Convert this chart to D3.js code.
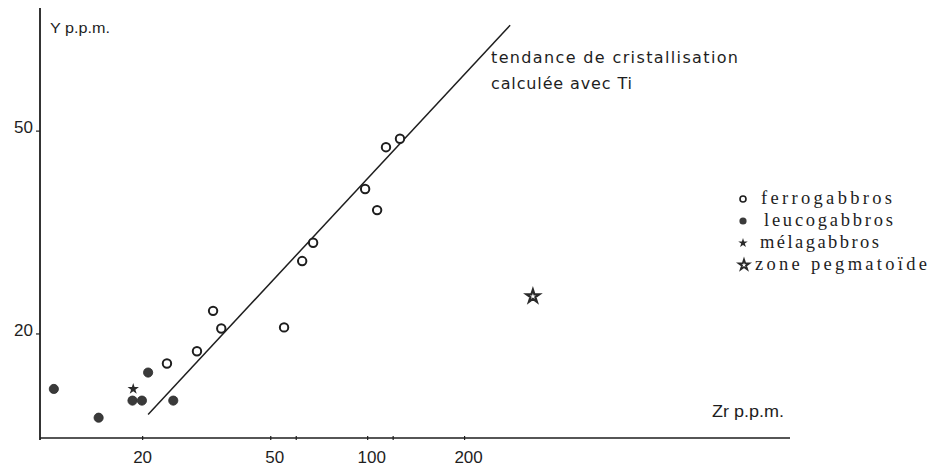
<!DOCTYPE html>
<html>
<head>
<meta charset="utf-8">
<script src="https://cdn.jsdelivr.net/npm/d3@7"></script>
<style>
  html, body { margin: 0; padding: 0; background: #fff; }
  svg { display: block; }
</style>
</head>
<body>
<svg id="chart" width="931" height="466"></svg>
<script>
// Zr (ppm) and Y (ppm) for each rock group
const ferroZr = [23.8, 29.5, 33.1, 35.1, 55.0, 62.6, 67.7, 98.2, 107, 114, 126];
const ferroY  = [17.5, 18.5, 22.2, 20.5, 20.6, 27.8, 30.2, 38.5, 35.0, 46.5, 48.3];

const leucoZr = [10.6, 14.6, 18.6, 19.9, 20.8, 24.9];
const leucoY  = [15.6, 13.7, 14.8, 14.8, 16.8, 14.8];

const melaZr = [18.7];
const melaY  = [15.6];

const pegmaZr = [326];
const pegmaY  = [23.7];

// crystallisation trend computed from Ti
const trendZr = [20.8, 277];
const trendY  = [13.9, 80.7];

const xTickValues = [20, 50, 100, 200];
const xMinorTicks = [60, 120];
const yTickValues = [20, 50];

const legendLabels = ["ferrogabbros", "leucogabbros", "mélagabbros", "zone pegmatoïde"];
const trendLabel = ["tendance de cristallisation", "calculée avec Ti"];

const ink = "#1e1e1e";
const svg = d3.select("#chart");

const x = d3.scaleLog().domain([9.6, 2050]).range([40, 790]);
const y = d3.scaleLog().domain([12.5, 87.2]).range([438, 8]);

const zip = (a, b) => a.map((v, i) => [v, b[i]]);

// axes lines
svg.append("line")
  .attr("x1", x.range()[0]).attr("x2", x.range()[1])
  .attr("y1", y.range()[0]).attr("y2", y.range()[0])
  .attr("stroke", ink).attr("stroke-width", 1.6);
svg.append("line")
  .attr("x1", x.range()[0]).attr("x2", x.range()[0])
  .attr("y1", y.range()[0] + 2).attr("y2", y.range()[1])
  .attr("stroke", ink).attr("stroke-width", 1.8);

// x ticks
svg.append("g").selectAll("line")
  .data(xTickValues.concat(xMinorTicks))
  .join("line")
  .attr("x1", d => x(d)).attr("x2", d => x(d))
  .attr("y1", y.range()[0] - 2).attr("y2", y.range()[0] + 2)
  .attr("stroke", ink).attr("stroke-width", 1.2);

svg.append("g").selectAll("text")
  .data(xTickValues)
  .join("text")
  .attr("x", d => x(d) + (d === 20 ? 0 : 4))
  .attr("y", 463)
  .attr("text-anchor", "middle")
  .attr("font-family", "Liberation Sans, Arial, sans-serif")
  .attr("font-size", 17)
  .attr("fill", ink)
  .text(d => d);

// y ticks
svg.append("g").selectAll("line")
  .data(yTickValues)
  .join("line")
  .attr("x1", x.range()[0] - 4).attr("x2", x.range()[0])
  .attr("y1", d => y(d)).attr("y2", d => y(d))
  .attr("stroke", ink).attr("stroke-width", 1.2);

svg.append("g").selectAll("text")
  .data(yTickValues)
  .join("text")
  .attr("x", 33)
  .attr("y", d => y(d) + 2)
  .attr("text-anchor", "end")
  .attr("font-family", "Liberation Sans, Arial, sans-serif")
  .attr("font-size", 17)
  .attr("fill", ink)
  .text(d => d);

// axis titles
svg.append("text")
  .attr("x", 50).attr("y", 33)
  .attr("font-family", "Liberation Sans, Arial, sans-serif")
  .attr("font-size", 15)
  .attr("fill", ink)
  .attr("textLength", 60).attr("lengthAdjust", "spacingAndGlyphs")
  .text("Y p.p.m.");
svg.append("text")
  .attr("x", 712).attr("y", 417)
  .attr("font-family", "Liberation Sans, Arial, sans-serif")
  .attr("font-size", 16)
  .attr("fill", ink)
  .attr("textLength", 72).attr("lengthAdjust", "spacingAndGlyphs")
  .text("Zr p.p.m.");

// trend line
svg.append("path")
  .datum(zip(trendZr, trendY))
  .attr("d", d3.line().x(d => x(d[0])).y(d => y(d[1])))
  .attr("fill", "none")
  .attr("stroke", ink)
  .attr("stroke-width", 1.5);

const trendText = svg.append("text")
  .attr("font-family", "DejaVu Sans, sans-serif")
  .attr("font-size", 16)
  .attr("fill", ink);
trendText.append("tspan").attr("x", 491).attr("y", 63)
  .attr("textLength", 247).attr("lengthAdjust", "spacing")
  .text(trendLabel[0]);
trendText.append("tspan").attr("x", 491).attr("y", 89)
  .attr("textLength", 141).attr("lengthAdjust", "spacing")
  .text(trendLabel[1]);

// markers
const starSmall = d3.symbol().type(d3.symbolStar).size(40);
const starLarge = d3.symbol().type(d3.symbolStar).size(52);

svg.append("g").selectAll("circle")
  .data(zip(ferroZr, ferroY))
  .join("circle")
  .attr("cx", d => x(d[0])).attr("cy", d => y(d[1]))
  .attr("r", 4.2)
  .attr("fill", "#fff").attr("stroke", ink).attr("stroke-width", 2);

svg.append("g").selectAll("circle")
  .data(zip(leucoZr, leucoY))
  .join("circle")
  .attr("cx", d => x(d[0])).attr("cy", d => y(d[1]))
  .attr("r", 4.6)
  .attr("fill", "#3a3a3a").attr("stroke", "#2a2a2a").attr("stroke-width", 0.8);

svg.append("g").selectAll("path")
  .data(zip(melaZr, melaY))
  .join("path")
  .attr("transform", d => `translate(${x(d[0])},${y(d[1])})`)
  .attr("d", starSmall)
  .attr("fill", "#2a2a2a");

svg.append("g").selectAll("path")
  .data(zip(pegmaZr, pegmaY))
  .join("path")
  .attr("transform", d => `translate(${x(d[0])},${y(d[1])})`)
  .attr("d", starLarge)
  .attr("fill", "#fff").attr("stroke", "#2a2a2a").attr("stroke-width", 2.2);

// legend
const legendX = 743;
const legendBase = [204, 226, 248, 270];
const legendTextX = [761, 764, 760, 755];
const legendTextLen = [131, 129, 119, 172];
const legend = svg.append("g");
legendLabels.forEach((label, i) => {
  const cy = legendBase[i] - 5;
  if (i === 0) {
    legend.append("circle").attr("cx", legendX).attr("cy", cy).attr("r", 3)
      .attr("fill", "#fff").attr("stroke", ink).attr("stroke-width", 1.6);
  } else if (i === 1) {
    legend.append("circle").attr("cx", legendX).attr("cy", cy).attr("r", 3.6)
      .attr("fill", "#3a3a3a");
  } else if (i === 2) {
    legend.append("path").attr("transform", `translate(${legendX},${cy})`)
      .attr("d", d3.symbol().type(d3.symbolStar).size(28)).attr("fill", "#2a2a2a");
  } else {
    legend.append("path").attr("transform", `translate(${legendX + 1},${cy})`)
      .attr("d", d3.symbol().type(d3.symbolStar).size(34))
      .attr("fill", "#fff").attr("stroke", "#2a2a2a").attr("stroke-width", 1.8);
  }
  legend.append("text")
    .attr("x", legendTextX[i]).attr("y", legendBase[i])
    .attr("font-family", "Liberation Serif, Times New Roman, serif")
    .attr("font-size", 18.5)
    .attr("fill", ink)
    .attr("textLength", legendTextLen[i]).attr("lengthAdjust", "spacing")
    .text(label);
});
</script>
</body>
</html>
